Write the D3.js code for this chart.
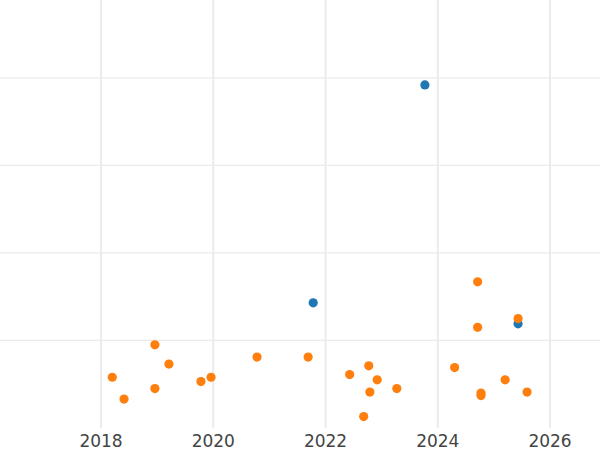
<!DOCTYPE html>
<html><head><meta charset="utf-8">
<script src="https://cdn.jsdelivr.net/npm/d3@7"></script>
<style>body{margin:0;background:#fff}</style>
</head><body><div id="chart"></div>
<script>
const xTicks = [2018, 2020, 2022, 2024, 2026];
const yTicks = [1, 2, 3, 4];
const blueYears = [2023.77, 2021.78, 2025.43];
const blueValues = [3.92, 1.43, 1.19];
const orangeYears = [2018.20, 2018.41, 2018.96, 2018.96, 2019.21, 2019.78, 2019.96, 2020.78, 2021.69, 2022.43,
  2022.68, 2022.77, 2022.79, 2022.92, 2023.27, 2024.30, 2024.71, 2024.71, 2024.77, 2024.77, 2025.20, 2025.43, 2025.59];
const orangeValues = [0.58, 0.33, 0.95, 0.45, 0.73, 0.53, 0.58, 0.81, 0.81, 0.61,
  0.13, 0.71, 0.41, 0.55, 0.45, 0.69, 1.67, 1.15, 0.40, 0.37, 0.55, 1.25, 0.41];

const W = 600, H = 450;
const svg = d3.select('#chart').append('svg').attr('width', W).attr('height', H);
const x = d3.scaleLinear().domain([2016.2, 2026.89]).range([0, W]);
const y = d3.scaleLinear().domain([0, 4.89]).range([428, 0]);

svg.append('g').selectAll('line').data(xTicks).join('line')
  .attr('x1', d => x(d)).attr('x2', d => x(d)).attr('y1', 0).attr('y2', 428)
  .attr('stroke', '#ebebeb').attr('stroke-width', 2);
svg.append('g').selectAll('line').data(yTicks).join('line')
  .attr('x1', 0).attr('x2', W).attr('y1', d => y(d)).attr('y2', d => y(d))
  .attr('stroke', '#ebebeb').attr('stroke-width', 1.2);

svg.append('g').selectAll('text').data(xTicks).join('text')
  .attr('x', d => x(d)).attr('y', 447).attr('text-anchor', 'middle')
  .attr('font-family', 'DejaVu Sans, sans-serif').attr('font-size', 17).attr('fill', '#444')
  .text(d => d);

function dots(years, vals, color) {
  svg.append('g').selectAll('circle').data(years).join('circle')
    .attr('cx', d => x(d)).attr('cy', (d, i) => y(vals[i])).attr('r', 4.6)
    .attr('fill', color);
}
dots(blueYears, blueValues, '#1f77b4');
dots(orangeYears, orangeValues, '#ff7f0e');
</script></body></html>
